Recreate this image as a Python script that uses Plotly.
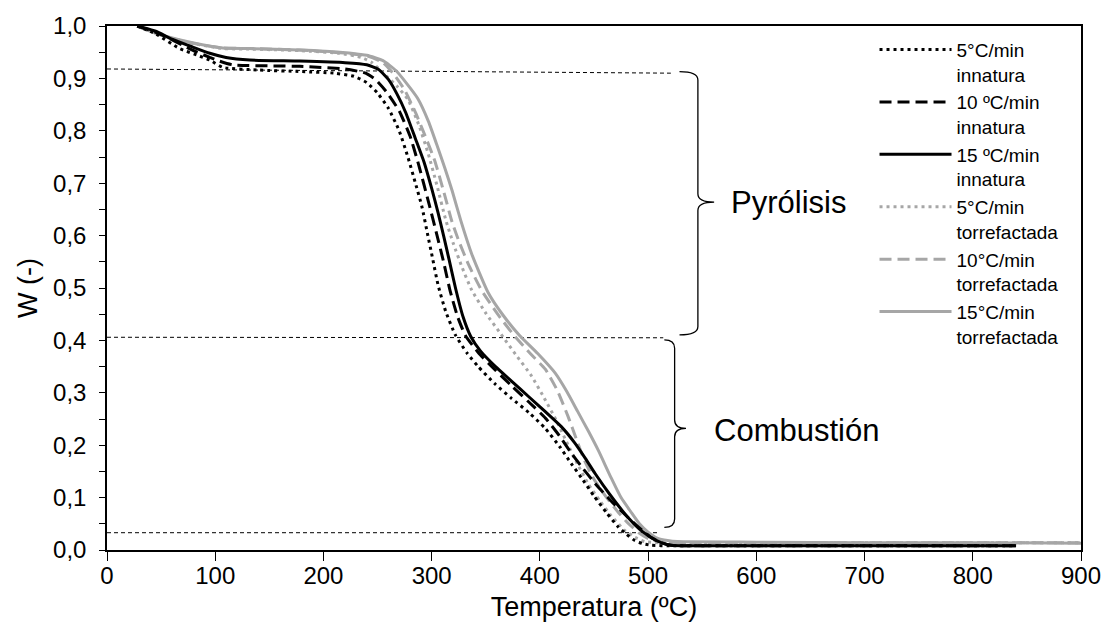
import plotly.graph_objects as go

# ---------------- data ----------------
x_5_inn = [28, 45, 67, 85, 95, 107, 140, 180, 210, 228, 240, 250, 260, 270, 278, 285, 291, 296, 301, 306, 313, 322, 333, 343, 358, 374, 390, 405, 418, 429, 440, 450, 462, 472, 480, 487, 495, 503, 520, 600, 700, 840]
y_5_inn = [1.000, 0.985, 0.957, 0.943, 0.935, 0.921, 0.916, 0.913, 0.910, 0.904, 0.892, 0.872, 0.843, 0.800, 0.750, 0.700, 0.655, 0.605, 0.555, 0.505, 0.455, 0.410, 0.375, 0.350, 0.318, 0.289, 0.262, 0.232, 0.198, 0.165, 0.133, 0.103, 0.070, 0.045, 0.030, 0.019, 0.012, 0.009, 0.008, 0.008, 0.008, 0.008]

x_10_inn = [28, 45, 55, 79, 95, 104, 116, 178, 220, 239, 248, 258, 270, 280, 288, 297, 305, 311, 317, 324, 331, 343, 358, 374, 390, 405, 418, 429, 440, 451, 466, 481, 492, 502, 512, 521, 540, 600, 700, 840]
y_10_inn = [1.000, 0.988, 0.979, 0.954, 0.940, 0.933, 0.926, 0.923, 0.918, 0.910, 0.898, 0.875, 0.838, 0.790, 0.735, 0.665, 0.600, 0.550, 0.495, 0.445, 0.410, 0.377, 0.345, 0.313, 0.282, 0.252, 0.218, 0.185, 0.155, 0.127, 0.093, 0.063, 0.042, 0.025, 0.014, 0.009, 0.008, 0.008, 0.008, 0.008]

x_15_inn = [28, 45, 60, 79, 95, 110, 132, 178, 220, 240, 251, 260, 268, 276, 285, 293, 300, 306, 311, 316, 322, 329, 336, 345, 359, 374, 390, 405, 420, 432, 442, 451, 465, 481, 492, 502, 512, 521, 540, 600, 700, 840]
y_15_inn = [1.000, 0.990, 0.975, 0.960, 0.948, 0.940, 0.935, 0.933, 0.930, 0.926, 0.917, 0.898, 0.870, 0.835, 0.785, 0.740, 0.690, 0.643, 0.600, 0.555, 0.500, 0.445, 0.408, 0.380, 0.350, 0.322, 0.292, 0.264, 0.235, 0.205, 0.175, 0.146, 0.105, 0.063, 0.040, 0.025, 0.014, 0.009, 0.008, 0.008, 0.008, 0.008]

x_5_tor = [28, 40, 55, 79, 107, 132, 178, 215, 235, 245, 258, 268, 278, 288, 297, 305, 313, 320, 328, 337, 350, 364, 378, 392, 404, 415, 425, 435, 445, 455, 466, 478, 488, 497, 510, 600, 700, 800, 900]
y_5_tor = [1.000, 0.990, 0.979, 0.967, 0.957, 0.956, 0.953, 0.948, 0.940, 0.930, 0.905, 0.885, 0.860, 0.812, 0.755, 0.695, 0.630, 0.585, 0.540, 0.496, 0.452, 0.412, 0.372, 0.333, 0.290, 0.248, 0.205, 0.163, 0.125, 0.095, 0.065, 0.038, 0.024, 0.016, 0.014, 0.014, 0.014, 0.014, 0.014]

x_10_tor = [28, 40, 55, 79, 107, 132, 178, 215, 240, 255, 265, 275, 285, 295, 303, 311, 319, 326, 334, 346, 361, 376, 392, 405, 416, 426, 434, 441, 450, 461, 472, 482, 492, 502, 515, 600, 700, 800, 900]
y_10_tor = [1.000, 0.990, 0.979, 0.967, 0.958, 0.957, 0.954, 0.949, 0.943, 0.930, 0.908, 0.878, 0.835, 0.785, 0.742, 0.685, 0.625, 0.585, 0.545, 0.496, 0.450, 0.410, 0.373, 0.345, 0.305, 0.255, 0.210, 0.172, 0.135, 0.102, 0.073, 0.050, 0.032, 0.020, 0.015, 0.014, 0.014, 0.014, 0.014]

x_15_tor = [28, 40, 55, 79, 107, 132, 178, 215, 240, 255, 267, 277, 287, 297, 305, 312, 319, 327, 337, 352, 366, 381, 398, 414, 425, 435, 445, 454, 466, 475, 484, 492, 500, 509, 518, 527, 600, 700, 800, 900]
y_15_tor = [1.000, 0.990, 0.980, 0.968, 0.958, 0.957, 0.954, 0.950, 0.944, 0.934, 0.915, 0.890, 0.862, 0.818, 0.772, 0.730, 0.685, 0.628, 0.565, 0.492, 0.448, 0.410, 0.375, 0.338, 0.302, 0.264, 0.226, 0.190, 0.137, 0.100, 0.073, 0.050, 0.034, 0.022, 0.018, 0.016, 0.015, 0.014, 0.014, 0.013]

series_names = ["5°C/min<br>innatura", "10 ºC/min<br>innatura", "15 ºC/min<br>innatura",
                "5°C/min<br>torrefactada", "10°C/min<br>torrefactada", "15°C/min<br>torrefactada"]

# reference (stage limit) lines: [x_start, x_end], [y_start, y_end]
ref_top_x = [0, 521]
ref_top_y = [0.918, 0.910]
ref_mid_x = [0, 514]
ref_mid_y = [0.406, 0.405]
ref_bot_x = [0, 509]
ref_bot_y = [0.033, 0.033]

# braces: x_left, x_vertical, x_tip, y_top, y_mid, y_bottom
brace_pyro = [529, 546, 561, 0.913, 0.664, 0.4105]
brace_comb = [515, 524.5, 535, 0.401, 0.232, 0.043]

stage_labels = ["Pyrólisis", "Combustión"]
stage_label_x = [575, 559]
stage_label_y = [0.664, 0.228]

x_ticks = list(range(0, 901, 100))
y_ticks = [round(i * 0.1, 1) for i in range(11)]

# ---------------- figure ----------------
BLACK = "#000000"
GRAY = "#A6A6A6"
FONT = "Liberation Sans, Arial, sans-serif"

styles = [
    dict(color=BLACK, width=3, dash="3px,4px"),
    dict(color=BLACK, width=3, dash="12px,6px"),
    dict(color=BLACK, width=3, dash="solid"),
    dict(color=GRAY, width=3, dash="3px,4px"),
    dict(color=GRAY, width=3, dash="12px,6px"),
    dict(color=GRAY, width=3, dash="solid"),
]
xs = [x_5_inn, x_10_inn, x_15_inn, x_5_tor, x_10_tor, x_15_tor]
ys = [y_5_inn, y_10_inn, y_15_inn, y_5_tor, y_10_tor, y_15_tor]

fig = go.Figure()

# dashed stage limit lines (behind the curves)
for rx, ry in [(ref_top_x, ref_top_y), (ref_mid_x, ref_mid_y), (ref_bot_x, ref_bot_y)]:
    fig.add_trace(go.Scatter(x=rx, y=ry, mode="lines", showlegend=False, hoverinfo="skip",
                             line=dict(color=BLACK, width=1, dash="4px,3px")))

order = [5, 4, 3, 2, 1, 0]
for i in order:
    fig.add_trace(go.Scatter(x=xs[i], y=ys[i], mode="lines", name=series_names[i],
                             line=dict(shape="spline", smoothing=0.5, **styles[i]),
                             legendrank=i + 1))


def brace_path(b, r=0.016):
    xl, xv, xt, yt, ym, yb = b
    return (f"M {xl},{yt} Q {xv},{yt} {xv},{yt - r} "
            f"L {xv},{ym + r} Q {xv},{ym} {xt},{ym} "
            f"Q {xv},{ym} {xv},{ym - r} "
            f"L {xv},{yb + r} Q {xv},{yb} {xl},{yb}")


for b in (brace_pyro, brace_comb):
    fig.add_shape(type="path", path=brace_path(b), xref="x", yref="y",
                  line=dict(color=BLACK, width=1.3))

for t, tx, ty in zip(stage_labels, stage_label_x, stage_label_y):
    fig.add_annotation(x=tx, y=ty, text=t, showarrow=False, xanchor="left", yanchor="middle",
                       font=dict(family=FONT, size=31, color=BLACK))

fig.update_layout(
    width=1113, height=643,
    margin=dict(l=107, r=28, t=19, b=93),
    paper_bgcolor="white", plot_bgcolor="white",
    separators=",.",
    font=dict(family=FONT, color=BLACK),
    showlegend=True,
    legend=dict(x=0.788, y=0.991, xanchor="left", yanchor="top",
                bgcolor="rgba(0,0,0,0)", borderwidth=0,
                font=dict(family=FONT, size=19, color=BLACK),
                itemwidth=72, valign="top", tracegroupgap=0),
    xaxis=dict(range=[0, 900], tickvals=x_ticks, showgrid=False, zeroline=False,
               showline=True, linecolor=BLACK, linewidth=1.5, mirror=True,
               ticks="outside", ticklen=9, tickcolor=BLACK, tickwidth=1.3,
               ticklabelstandoff=-6,
               tickfont=dict(family=FONT, size=24, color=BLACK),
               title=dict(text="Temperatura (ºC)", font=dict(family=FONT, size=27, color=BLACK),
                          standoff=10)),
    yaxis=dict(range=[0, 1.0], tickvals=y_ticks, tickformat=".1f", showgrid=False, zeroline=False,
               showline=True, linecolor=BLACK, linewidth=1.5, mirror=True,
               ticks="outside", ticklen=6, tickcolor=BLACK, tickwidth=1.3,
               ticklabelstandoff=8,
               minor=dict(dtick=0.05, ticks="outside", ticklen=6, tickcolor=BLACK, tickwidth=1.3),
               tickfont=dict(family=FONT, size=24, color=BLACK),
               title=dict(text="W (-)", font=dict(family=FONT, size=27, color=BLACK),
                          standoff=8)),
)

fig.write_html("out.html")
